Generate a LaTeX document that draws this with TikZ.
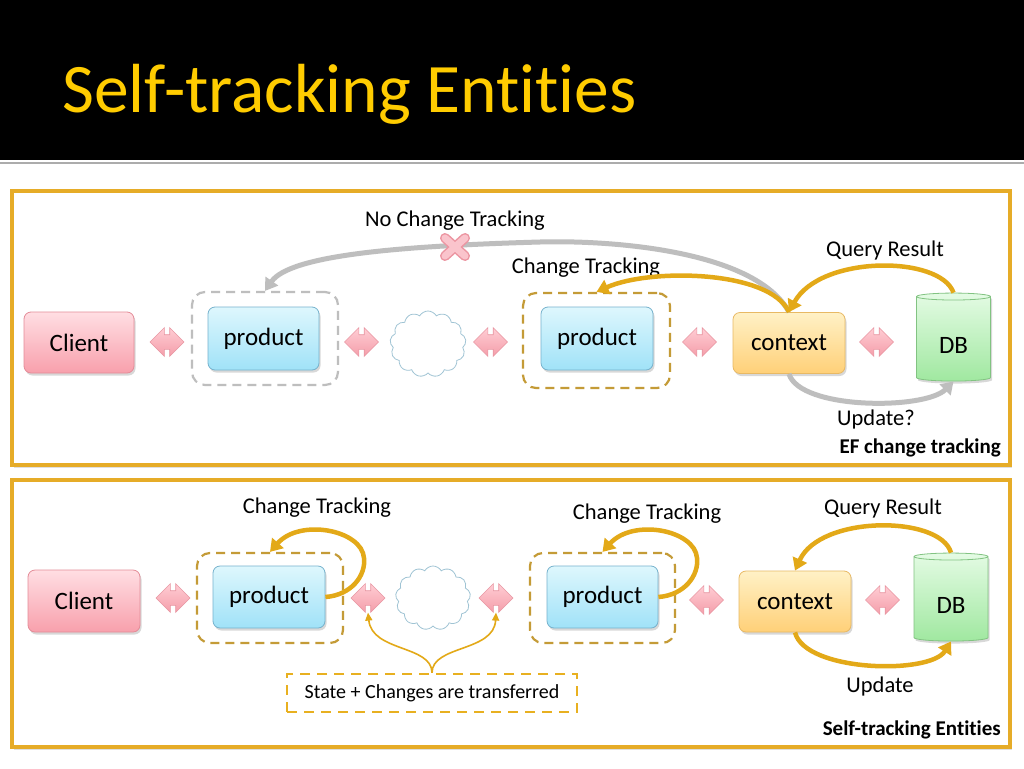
\documentclass[tikz,border=0pt]{standalone}
\usepackage{fontspec}
\setmainfont{Carlito}[Ligatures=NoCommon]
\usetikzlibrary{shapes.geometric,shapes.symbols,shapes.arrows,shadows,arrows.meta}
\definecolor{titleyellow}{RGB}{255,204,0}
\definecolor{clienttop}{RGB}{255,222,227}
\definecolor{clientbot}{RGB}{248,160,172}
\definecolor{clientborder}{RGB}{228,140,152}
\definecolor{prodtop}{RGB}{222,247,253}
\definecolor{prodbot}{RGB}{160,226,248}
\definecolor{prodborder}{RGB}{118,178,205}
\definecolor{ctxtop}{RGB}{255,241,198}
\definecolor{ctxbot}{RGB}{255,208,120}
\definecolor{ctxborder}{RGB}{232,185,100}
\definecolor{dbtop}{RGB}{228,251,228}
\definecolor{dbbot}{RGB}{160,232,160}
\definecolor{dbborder}{RGB}{130,195,130}
\definecolor{pinktop}{RGB}{255,205,212}
\definecolor{pinkbot}{RGB}{244,158,170}
\definecolor{pinkborder}{RGB}{232,150,162}
\definecolor{goldline}{RGB}{227,169,24}
\definecolor{panelgold}{RGB}{230,172,40}
\definecolor{dashgray}{RGB}{190,190,190}
\definecolor{dasholive}{RGB}{196,155,55}
\definecolor{labelgold}{RGB}{232,176,32}
\definecolor{grayarrow}{RGB}{190,190,190}
\definecolor{cloudborder}{RGB}{160,196,212}
\definecolor{crossdark}{RGB}{236,150,162}
\definecolor{crosslight}{RGB}{250,196,204}
\tikzset{
  panel/.style={draw=panelgold, line width=3.2pt, fill=white,
    drop shadow={opacity=0.25, shadow xshift=2pt, shadow yshift=-3pt}},
  box/.style={rounded corners=7pt, minimum width=112pt, minimum height=62pt,
    line width=0.8pt, inner sep=0pt, font=\fontsize{25}{30}\selectfont,
    drop shadow={opacity=0.3, shadow xshift=1.5pt, shadow yshift=-2.5pt}},
  clientbox/.style={box, draw=clientborder, top color=clienttop, bottom color=clientbot},
  prodbox/.style={box, draw=prodborder, top color=prodtop, bottom color=prodbot},
  ctxbox/.style={box, draw=ctxborder, top color=ctxtop, bottom color=ctxbot},
  dbbox/.style={cylinder, shape border rotate=90, aspect=0.24, draw=dbborder,
    line width=0.8pt, top color=dbtop, bottom color=dbbot, inner sep=0pt,
    minimum width=74pt, minimum height=88pt, font=\fontsize{25}{30}\selectfont,
    text height=28pt, text depth=0pt,
    drop shadow={opacity=0.3, shadow xshift=1.5pt, shadow yshift=-2.5pt}},
  pinkarrow/.style={double arrow, draw=pinkborder, line width=0.6pt,
    top color=pinktop, bottom color=pinkbot, inner xsep=0pt, inner ysep=7pt,
    double arrow head extend=7pt, minimum height=34pt},
  cloudnode/.style={cloud, cloud puffs=13, cloud puff arc=120, aspect=1.1,
    draw=cloudborder, line width=0.8pt, fill=white, inner sep=0pt,
    minimum width=76pt, minimum height=66pt},
  dashbox/.style={rounded corners=13pt, line width=2.2pt,
    dash pattern=on 9pt off 6pt, fill=none},
  graydash/.style={dashbox, draw=dashgray},
  olivedash/.style={dashbox, draw=dasholive},
  lbl/.style={font=\fontsize{22.5}{27}\selectfont, inner sep=0pt},
  boldlbl/.style={font=\bfseries\fontsize{21}{25}\selectfont, inner sep=0pt},
  goldarrow/.style={draw=goldline, line width=4.5pt,
    -{Triangle[length=12pt,width=15pt]}},
  grayarr/.style={draw=grayarrow, line width=5pt,
    -{Triangle[length=12pt,width=15pt]}},
  thinarrow/.style={draw=goldline, line width=1.6pt,
    -{Triangle[length=8pt,width=7pt]}},
}
\begin{document}
\begin{tikzpicture}[x=1pt,y=-1pt]
\useasboundingbox (0,0) rectangle (1024,768);
\fill[white] (0,0) rectangle (1024,768);
% header
\fill[black] (0,0) rectangle (1024,160);
\draw[gray!65, line width=2.2pt] (0,163) -- (1024,163);
\node[anchor=base west, text=titleyellow, inner sep=0pt,
  font=\fontsize{69.5}{80}\selectfont] (title) at (62,112) {Self-tracking Entities};

% panels
\draw[panel] (12,191) rectangle (1010,465);
\draw[panel] (12,480) rectangle (1010,747);

% ===== top panel =====
\node[graydash, minimum width=146pt, minimum height=93pt] (dash1) at (265,338.5) {};
\node[olivedash, minimum width=147pt, minimum height=95pt] (dash2) at (596.5,340.5) {};
\node[clientbox, minimum width=110pt, minimum height=61pt] (cli1) at (79,342.5) {Client};
\node[prodbox, minimum width=111pt, minimum height=63pt] (prod1) at (263.5,338.5) {product};
\node[cloudnode] (cloud1) at (428,344) {};
\node[prodbox, minimum width=112pt, minimum height=63pt] (prod2) at (597,338.5) {product};
\node[ctxbox, minimum height=61pt] (ctx1) at (789,343) {context};
\node[dbbox] (db1) at (953.5,339) {DB};
\node[pinkarrow] (ar1) at (167,342) {};
\node[pinkarrow] (ar2) at (361.5,342) {};
\node[pinkarrow] (ar3) at (490.5,342) {};
\node[pinkarrow] (ar4) at (699.5,342) {};
\node[pinkarrow] (ar5) at (876.5,342) {};

\node[lbl] (nct) at (455,221) {No Change Tracking};
\node[lbl] (ct1) at (586,268) {Change Tracking};
\node[lbl] (qr1) at (885,250) {Query Result};
\node[lbl] (up1) at (876,419) {Update?};
\node[boldlbl, anchor=east] (ef) at (1001,448) {EF change tracking};

\draw[grayarr] (ctx1.north) .. controls (755,250) and (610,240) .. (540,242)
  .. controls (400,246) and (290,255) .. (dash1.north);
\coordinate (xc) at (455,247);
\draw[crossdark, line width=10pt, line cap=round] ([shift={(-10,-9)}]xc) -- ([shift={(10,9)}]xc);
\draw[crossdark, line width=10pt, line cap=round] ([shift={(-10,9)}]xc) -- ([shift={(10,-9)}]xc);
\draw[crosslight, line width=7pt, line cap=round] ([shift={(-10,-9)}]xc) -- ([shift={(10,9)}]xc);
\draw[crosslight, line width=7pt, line cap=round] ([shift={(-10,9)}]xc) -- ([shift={(10,-9)}]xc);
\draw[goldarrow] (ctx1.north) .. controls (770,270) and (650,268) .. (dash2.north);
\draw[goldarrow] (db1.north) .. controls (940,255) and (820,255) .. (ctx1.north);
\draw[grayarr] (ctx1.south) .. controls (800,410) and (925,410) .. (db1.south);

% ===== bottom panel =====
\node[olivedash, minimum width=146pt, minimum height=90pt] (dash3) at (270,598) {};
\node[olivedash, minimum width=145pt, minimum height=90pt] (dash4) at (602.5,598) {};
\node[clientbox, minimum width=112pt, minimum height=62pt] (cli2) at (84,601) {Client};
\node[prodbox, minimum width=112pt, minimum height=62pt] (prod3) at (269,597) {product};
\node[cloudnode, minimum width=75pt, minimum height=64pt] (cloud2) at (433,598) {};
\node[prodbox, minimum width=111pt, minimum height=62pt] (prod4) at (602.5,597) {product};
\node[ctxbox, minimum height=61pt] (ctx2) at (795,601.5) {context};
\node[dbbox] (db2) at (951,599) {DB};
\node[pinkarrow] (ar6) at (173,598) {};
\node[pinkarrow] (ar7) at (368,598) {};
\node[pinkarrow] (ar8) at (496,598) {};
\node[pinkarrow] (ar9) at (706.5,600) {};
\node[pinkarrow] (ar10) at (882.5,600) {};

\node[lbl] (ct2) at (317,508) {Change Tracking};
\node[lbl] (ct3) at (647,514) {Change Tracking};
\node[lbl] (qr2) at (883,508) {Query Result};
\node[lbl] (up2) at (880,686) {Update};
\node[boldlbl, anchor=east] (ste) at (1001,730) {Self-tracking Entities};
\node[draw=labelgold, line width=2.4pt, dash pattern=on 10pt off 7pt,
  minimum width=290pt, minimum height=38pt, inner sep=0pt,
  font=\fontsize{20}{24}\selectfont] (sbox) at (432,693) {State + Changes are transferred};

\draw[goldarrow] (prod3.east) .. controls (352,595) and (366,575) .. (364,558)
  .. controls (362,530) and (300,518) .. (dash3.north);
\draw[goldarrow] (prod4.east) .. controls (685,595) and (699,575) .. (697,558)
  .. controls (695,530) and (633,518) .. (dash4.north);
\draw[goldarrow] (db2.north) .. controls (940,515) and (820,515) .. (ctx2.north);
\draw[goldarrow] (ctx2.south) .. controls (805,672) and (930,675) .. (db2.south);
\draw[thinarrow] (sbox.north) .. controls (432,645) and (372,652) .. ([yshift=-7pt]ar7.south);
\draw[thinarrow] (sbox.north) .. controls (432,645) and (494,652) .. ([yshift=-7pt]ar8.south);
\end{tikzpicture}
\end{document}
